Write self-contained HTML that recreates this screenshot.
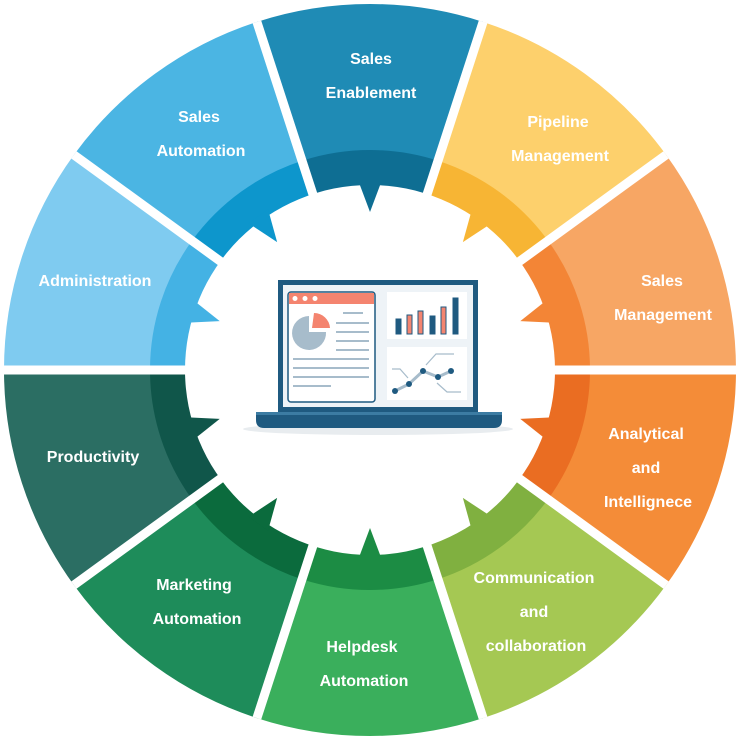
<!DOCTYPE html>
<html><head><meta charset="utf-8"><style>
html,body{margin:0;padding:0;background:#fff;width:740px;height:740px;overflow:hidden;}
svg{display:block;overflow:hidden}
text{font-family:"Liberation Sans",sans-serif;font-weight:bold;font-size:16px;fill:#fff;text-anchor:middle}
</style></head><body>
<svg width="740" height="740" viewBox="0 0 740 740">
<g fill="none" stroke-width="148" stroke-dasharray="183.47 1651.22">
<circle cx="370" cy="370" r="292" stroke="#1f8bb5" stroke-dashoffset="-1284.28"/>
<circle cx="370" cy="370" r="292" stroke="#fdd06c" stroke-dashoffset="-1467.75"/>
<circle cx="370" cy="370" r="292" stroke="#f7a664" stroke-dashoffset="-1651.22"/>
<circle cx="370" cy="370" r="292" stroke="#f48c38" stroke-dashoffset="0"/>
<circle cx="370" cy="370" r="292" stroke="#a5c853" stroke-dashoffset="-183.47"/>
<circle cx="370" cy="370" r="292" stroke="#3aaf5c" stroke-dashoffset="-366.94"/>
<circle cx="370" cy="370" r="292" stroke="#1e8c5a" stroke-dashoffset="-550.41"/>
<circle cx="370" cy="370" r="292" stroke="#2b6e63" stroke-dashoffset="-733.88"/>
<circle cx="370" cy="370" r="292" stroke="#7fcbf0" stroke-dashoffset="-917.34"/>
<circle cx="370" cy="370" r="292" stroke="#4bb5e3" stroke-dashoffset="-1100.81"/>
</g>
<g fill="none" stroke-width="36" stroke-dasharray="126.92 1142.31">
<circle cx="370" cy="370" r="202" stroke="#0e6e93" stroke-dashoffset="-888.46"/>
<circle cx="370" cy="370" r="202" stroke="#f7b534" stroke-dashoffset="-1015.38"/>
<circle cx="370" cy="370" r="202" stroke="#f38536" stroke-dashoffset="-1142.31"/>
<circle cx="370" cy="370" r="202" stroke="#ea6d22" stroke-dashoffset="0"/>
<circle cx="370" cy="370" r="202" stroke="#80b040" stroke-dashoffset="-126.92"/>
<circle cx="370" cy="370" r="202" stroke="#1c8c44" stroke-dashoffset="-253.85"/>
<circle cx="370" cy="370" r="202" stroke="#0b6b3d" stroke-dashoffset="-380.77"/>
<circle cx="370" cy="370" r="202" stroke="#10564a" stroke-dashoffset="-507.69"/>
<circle cx="370" cy="370" r="202" stroke="#44b2e4" stroke-dashoffset="-634.62"/>
<circle cx="370" cy="370" r="202" stroke="#0d96cc" stroke-dashoffset="-761.54"/>
</g>
<g stroke="#fff" stroke-width="9">
<line x1="370" y1="370" x2="370" y2="4" transform="rotate(-18 370 370)"/>
<line x1="370" y1="370" x2="370" y2="4" transform="rotate(18 370 370)"/>
<line x1="370" y1="370" x2="370" y2="4" transform="rotate(54 370 370)"/>
<line x1="370" y1="370" x2="370" y2="4" transform="rotate(90 370 370)"/>
<line x1="370" y1="370" x2="370" y2="4" transform="rotate(126 370 370)"/>
<line x1="370" y1="370" x2="370" y2="4" transform="rotate(162 370 370)"/>
<line x1="370" y1="370" x2="370" y2="4" transform="rotate(198 370 370)"/>
<line x1="370" y1="370" x2="370" y2="4" transform="rotate(234 370 370)"/>
<line x1="370" y1="370" x2="370" y2="4" transform="rotate(270 370 370)"/>
<line x1="370" y1="370" x2="370" y2="4" transform="rotate(306 370 370)"/>
</g>
<circle cx="370" cy="370" r="185" fill="#fff"/>
<g>
<polygon points="358,180 382,180 370,212" fill="#0e6e93"/>
<polygon points="358,180 382,180 370,212" fill="#f7b534" transform="rotate(36 370 370)"/>
<polygon points="358,180 382,180 370,212" fill="#f38536" transform="rotate(72 370 370)"/>
<polygon points="358,180 382,180 370,212" fill="#ea6d22" transform="rotate(108 370 370)"/>
<polygon points="358,180 382,180 370,212" fill="#80b040" transform="rotate(144 370 370)"/>
<polygon points="358,180 382,180 370,212" fill="#1c8c44" transform="rotate(180 370 370)"/>
<polygon points="358,180 382,180 370,212" fill="#0b6b3d" transform="rotate(216 370 370)"/>
<polygon points="358,180 382,180 370,212" fill="#10564a" transform="rotate(252 370 370)"/>
<polygon points="358,180 382,180 370,212" fill="#44b2e4" transform="rotate(288 370 370)"/>
<polygon points="358,180 382,180 370,212" fill="#0d96cc" transform="rotate(324 370 370)"/>
</g>
<ellipse cx="378" cy="429" rx="135" ry="6" fill="#e8ecef"/>
<rect x="278" y="280" width="200" height="134" fill="#1f5a80"/>
<rect x="283" y="285" width="190" height="122" fill="#eef3f7"/>
<path d="M256 412 H502 V420 Q502 428 494 428 H264 Q256 428 256 420 Z" fill="#1f5a80"/>
<rect x="256" y="412" width="246" height="3" fill="#3c7ca3"/>
<rect x="288" y="292" width="87" height="110" rx="3" fill="#fff" stroke="#1f5a80" stroke-width="1.5"/>
<rect x="289" y="293" width="85" height="11" fill="#f4846f"/>
<circle cx="295" cy="298.5" r="2.5" fill="#fff"/><circle cx="305" cy="298.5" r="2.5" fill="#fff"/><circle cx="315" cy="298.5" r="2.5" fill="#fff"/>
<path d="M309 316 A17 17 0 1 0 326 332 L309 332 Z" fill="#a7bccb"/>
<path d="M314 313 A16 16 0 0 1 330 328 L312 328 Z" fill="#f4846f"/>
<g stroke="#a7bccb" stroke-width="2">
<line x1="343" y1="313" x2="363" y2="313"/>
<line x1="336" y1="323" x2="369" y2="323"/>
<line x1="336" y1="332" x2="369" y2="332"/>
<line x1="336" y1="341" x2="369" y2="341"/>
<line x1="336" y1="350" x2="369" y2="350"/>
<line x1="293" y1="359" x2="369" y2="359"/>
<line x1="293" y1="368" x2="369" y2="368"/>
<line x1="293" y1="377" x2="369" y2="377"/>
<line x1="293" y1="386" x2="331" y2="386"/>
</g>
<rect x="387" y="292" width="80" height="47" fill="#fff"/>
<rect x="387" y="347" width="80" height="53" fill="#fff"/>
<g stroke="#1f5a80" stroke-width="1">
<rect x="396" y="319" width="5" height="15" fill="#1f5a80"/>
<rect x="407" y="315" width="5" height="19" fill="#f4846f"/>
<rect x="418" y="311" width="5" height="23" fill="#f4846f"/>
<rect x="430" y="316" width="5" height="18" fill="#1f5a80"/>
<rect x="441" y="307" width="5" height="27" fill="#f4846f"/>
<rect x="453" y="298" width="5" height="36" fill="#1f5a80"/>
</g>
<polyline points="395,391 409,384 423,371 438,377 451,371" fill="none" stroke="#a7bccb" stroke-width="3"/>
<g fill="#1f5a80"><circle cx="395" cy="391" r="3"/><circle cx="409" cy="384" r="3"/><circle cx="423" cy="371" r="3"/><circle cx="438" cy="377" r="3"/><circle cx="451" cy="371" r="3"/></g>
<g stroke="#a7bccb" stroke-width="1.2" fill="none">
<polyline points="392,369 400,369 408,378"/><polyline points="426,365 436,354 454,354"/><polyline points="437,383 447,392 461,392"/>
</g>
<text x="371" y="64">Sales</text><text x="371" y="98">Enablement</text>
<text x="558" y="127">Pipeline</text><text x="560" y="161">Management</text>
<text x="662" y="286">Sales</text><text x="663" y="320">Management</text>
<text x="646" y="439">Analytical</text><text x="646" y="473">and</text><text x="648" y="507">Intellignece</text>
<text x="534" y="583">Communication</text><text x="534" y="617">and</text><text x="536" y="651">collaboration</text>
<text x="362" y="652">Helpdesk</text><text x="364" y="686">Automation</text>
<text x="194" y="590">Marketing</text><text x="197" y="624">Automation</text>
<text x="93" y="462">Productivity</text>
<text x="95" y="286">Administration</text>
<text x="199" y="122">Sales</text><text x="201" y="156">Automation</text>
</svg>
</body></html>
